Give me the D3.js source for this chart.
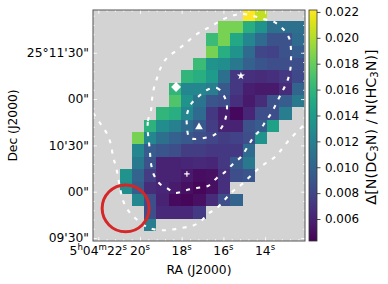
<!DOCTYPE html>
<html>
<head>
<meta charset="utf-8">
<script src="https://cdn.jsdelivr.net/npm/d3@7"></script>
<style>
body { margin: 0; background: #fff; }
text { font-family: "DejaVu Sans", sans-serif; fill: #000; }
</style>
</head>
<body>
<script>
var _ = null;
// ratio map, one row per 8" of Dec, columns run west from RA 20.98s
var ratioRows = [
  [_,_,_,_,_,_,_,_,_,_,.0221,.0205,_,_,_],
  [_,_,_,_,_,_,_,_,.0185,.0185,.0155,.0135,.0108,.0108,.0108],
  [_,_,_,_,_,_,_,.0165,.0185,.0150,.0125,.0105,.0088,.0088,.0105],
  [_,_,_,_,_,_,_,.0185,.0155,.0135,.0105,.0080,.0078,.0088,.0095],
  [_,_,_,_,_,_,.0165,.0135,.0130,.0115,.0098,.0090,.0085,.0085,.0085],
  [_,_,_,_,_,.0160,.0155,.0140,.0108,.0072,.0068,.0065,.0068,.0072,.0082],
  [_,_,_,_,.0160,.0125,.0125,.0118,.0092,.0072,.0058,.0055,.0055,.0065,.0100],
  [_,_,_,_,.0172,.0135,.0112,.0090,.0085,.0068,.0055,.0065,.0088,.0095,.0115],
  [_,_,_,.0160,.0155,.0125,.0105,.0072,.0058,.0047,.0062,.0085,.0085,.0118,_],
  [_,_,.0158,.0130,.0120,.0105,.0092,.0075,.0060,.0060,.0088,.0095,.0145,_,_],
  [_,.0185,.0125,.0108,.0098,.0092,.0085,.0080,.0075,.0078,.0085,.0135,_,_,_],
  [_,.0125,.0095,.0090,.0085,.0075,.0075,.0071,.0072,.0072,.0105,_,_,_,_],
  [_,.0115,.0088,.0060,.0060,.0062,.0063,.0062,.0072,.0092,.0115,_,_,_,_],
  [.0135,.0100,.0075,.0060,.0060,.0055,.0049,.0050,.0068,.0085,.0090,_,_,_,_],
  [.0130,.0095,.0065,.0062,.0056,.0050,.0046,.0050,.0068,_,_,_,_,_,_],
  [_,.0125,.0085,.0060,.0048,.0046,.0050,.0065,.0085,.0100,_,_,_,_,_],
  [_,_,.0085,.0063,.0063,.0063,.0073,_,_,_,_,_,_,_,_],
  [_,_,.0118,_,_,_,_,_,_,_,_,_,_,_,_]
];
var raStart = 20.983, raStep = 0.59;
var decStart = 178.6, decStep = 8; // arcsec above 25d09m

// contours, [RA seconds, Dec arcsec above 25d09m]
var outerContour = [[22.25,111],[21.92,104.5],[21.58,97.4],[21.39,90.3],[21.29,82.5],[21.15,76],[20.82,54.6],[20.58,48.1],[20.24,43],[19.66,37.1],[19.14,35.2],[18.61,35.2],[18.03,36.5],[17.51,37.8],[17.12,40.4],[16.74,45.6],[16.31,49.4],[15.59,59.8],[15.16,64.3],[14.39,74.1],[13.96,78.6],[13.53,82.5],[13.19,87.7],[12.85,93.5],[12.47,98.7],[12.09,103.9]];
var middleContour = [[19.62,98],[19.62,105.8],[19.47,112.9],[19.42,120.1],[19.33,127.2],[19.18,133.7],[18.99,140.8],[18.71,146.6],[18.27,151.2],[17.84,155.7],[17.46,160.2],[17.03,164.1],[16.55,167.4],[16.07,171.3],[15.59,173.9],[15.11,175.2],[14.58,173.9],[14.1,171.9],[13.57,170],[13.14,165.4],[12.85,159.6],[12.76,152.5],[12.76,145.3],[12.8,138.2],[12.95,131.1],[13.19,124.6],[13.43,118.1],[13.67,111.6],[13.96,105.8],[14.24,100],[14.58,94.8],[14.87,88.3],[15.16,82.5],[15.54,78],[15.92,72.8],[16.31,68.9],[16.74,63.7],[17.27,62.4],[17.75,61.1],[18.32,59.2],[18.71,62.4],[19.04,65],[19.33,70.8],[19.47,78],[19.52,85.1],[19.57,92.2]];
var innerContour = [[16.79,125.9],[16.31,127.2],[15.97,122],[15.83,115.5],[15.88,108.4],[16.07,101.9],[16.45,96.7],[16.93,94.8],[17.46,94.2],[17.65,95.4],[17.75,103.2],[17.75,109.7],[17.55,116.8],[17.22,121.4]];

var markerNames = [d3.symbolDiamond2, d3.symbolTriangle, d3.symbolStar, d3.symbolCross];
var markerRa = [18.27, 17.17, 15.16, 17.75];
var markerDec = [127.8, 101.9, 135, 71.5];
var markerSize = [62, 26, 20, 0];

var beamRa = 20.69, beamDec = 49.2, beamRadius = 15.2;

var raTicks = [22, 20, 18, 16, 14];
var raLabels = ['5^h04^m22^s', '20^s', '18^s', '16^s', '14^s'];
var decTicks = [150, 120, 90, 60, 30];
var decLabels = ['25\u00b011\'30"', '00"', '10\'30"', '00"', '09\'30"'];
var barTicks = [0.022, 0.020, 0.018, 0.016, 0.014, 0.012, 0.010, 0.008, 0.006];

var left = 93, right = 305, top_ = 10, bottom = 241;
var barLeft = 309, barRight = 317;

var x = d3.scaleLinear().domain([22.254, 12.086]).range([left, right]);
var y = d3.scaleLinear().domain([177.7, 28.06]).range([top_, bottom]);
var color = d3.scaleSequential(d3.interpolateViridis).domain([0.0043, 0.02215]);
var barY = d3.scaleLinear().domain(color.domain()).range([bottom, top_]);

var svg = d3.select('body').append('svg').attr('width', 388).attr('height', 284);

svg.append('clipPath').attr('id', 'plot')
  .append('rect').attr('x', left).attr('y', top_).attr('width', right - left).attr('height', bottom - top_);

var plot = svg.append('g').attr('clip-path', 'url(#plot)');
plot.append('rect').attr('x', left).attr('y', top_).attr('width', right - left).attr('height', bottom - top_).attr('fill', '#d3d3d3');

ratioRows.forEach(function(row, r) {
  row.forEach(function(v, c) {
    if (v === null) return;
    var x0 = x(raStart - c * raStep), x1 = x(raStart - (c + 1) * raStep);
    var y0 = y(decStart - r * decStep), y1 = y(decStart - (r + 1) * decStep);
    plot.append('rect').attr('x', x0).attr('y', y0)
      .attr('width', x1 - x0).attr('height', y1 - y0)
      .attr('fill', color(v)).attr('shape-rendering', 'crispEdges');
  });
});

var openLine = d3.line().x(function(d) { return x(d[0]); }).y(function(d) { return y(d[1]); }).curve(d3.curveCatmullRom);
var closedLine = d3.line().x(function(d) { return x(d[0]); }).y(function(d) { return y(d[1]); }).curve(d3.curveCatmullRomClosed);
var dashStyle = function(sel) {
  sel.attr('fill', 'none').attr('stroke', '#fff').attr('stroke-width', 2.1).attr('stroke-dasharray', '4,6.4');
};
plot.append('path').attr('d', openLine(outerContour)).call(dashStyle);
plot.append('path').attr('d', closedLine(middleContour)).call(dashStyle);
plot.append('path').attr('d', closedLine(innerContour)).call(dashStyle);

// red circle
plot.append('circle').attr('cx', x(beamRa)).attr('cy', y(beamDec))
  .attr('r', y(beamDec - beamRadius) - y(beamDec))
  .attr('fill', 'none').attr('stroke', '#d62728').attr('stroke-width', 3);

// source markers
markerNames.forEach(function(s, i) {
  var g = plot.append('g').attr('transform', 'translate(' + x(markerRa[i]) + ',' + y(markerDec[i]) + ')');
  if (markerSize[i] > 0) {
    g.append('path').attr('d', d3.symbol().type(s).size(markerSize[i])()).attr('fill', '#fff');
  } else {
    g.append('path').attr('d', 'M-2.7,0H2.7M0,-2.7V2.7').attr('stroke', '#fff').attr('stroke-width', 1.2);
  }
});

// white ticks all round, pointing in
var raMinor = d3.range(12.4, 22.2, 0.4);
var decMinor = d3.range(30, 177, 6);
var drawTicks = function(axisFn, scale, values, len, tx, ty) {
  var a = axisFn(scale).tickValues(values).tickSize(-len).tickFormat('');
  var g = svg.append('g').attr('transform', 'translate(' + tx + ',' + ty + ')').call(a);
  g.select('.domain').remove();
  g.selectAll('line').attr('stroke', '#fff').attr('stroke-width', 0.8);
};
drawTicks(d3.axisBottom, x, raMinor, 2, 0, bottom);
drawTicks(d3.axisBottom, x, raTicks, 4, 0, bottom);
drawTicks(d3.axisTop, x, raMinor, 2, 0, top_);
drawTicks(d3.axisTop, x, raTicks, 4, 0, top_);
drawTicks(d3.axisLeft, y, decMinor, 2, left, 0);
drawTicks(d3.axisLeft, y, decTicks, 4, left, 0);
drawTicks(d3.axisRight, y, decMinor, 2, right, 0);
drawTicks(d3.axisRight, y, decTicks, 4, right, 0);

svg.append('rect').attr('x', left).attr('y', top_).attr('width', right - left).attr('height', bottom - top_)
  .attr('fill', 'none').attr('stroke', '#555').attr('stroke-width', 1);

// tick labels, ^ marks a superscript letter
raTicks.forEach(function(t, i) {
  var label = svg.append('text').attr('x', x(t)).attr('y', 255)
    .attr('text-anchor', 'middle').attr('font-size', 12.3);
  raLabels[i].split('^').forEach(function(part, j) {
    if (j === 0) {
      label.append('tspan').text(part);
      return;
    }
    label.append('tspan').attr('font-size', 8.6).attr('dy', -4.8).text(part[0]);
    label.append('tspan').attr('dy', 4.8).text(part.slice(1));
  });
});
decTicks.forEach(function(t, i) {
  svg.append('text').attr('x', 89).attr('y', y(t) + 4.2)
    .attr('text-anchor', 'end').attr('font-size', 12.3).text(decLabels[i]);
});

svg.append('text').attr('x', 199).attr('y', 274)
  .attr('text-anchor', 'middle').attr('font-size', 12.3).text('RA (J2000)');
svg.append('text').attr('transform', 'translate(17,125.5) rotate(-90)')
  .attr('text-anchor', 'middle').attr('font-size', 12.3).text('Dec (J2000)');

// colorbar
var grad = svg.append('linearGradient').attr('id', 'viridis')
  .attr('x1', 0).attr('y1', 1).attr('x2', 0).attr('y2', 0);
d3.range(0, 1.01, 0.05).forEach(function(t) {
  grad.append('stop').attr('offset', t).attr('stop-color', d3.interpolateViridis(t));
});
svg.append('rect').attr('x', barLeft).attr('y', top_).attr('width', barRight - barLeft).attr('height', bottom - top_)
  .attr('fill', 'url(#viridis)').attr('stroke', '#333').attr('stroke-width', 0.8);
var barAxis = svg.append('g').attr('transform', 'translate(' + barRight + ',0)')
  .call(d3.axisRight(barY).tickValues(barTicks).tickSize(3.5).tickPadding(4.5).tickFormat(d3.format('.3f')));
barAxis.select('.domain').remove();
barAxis.selectAll('line').attr('stroke', '#222').attr('stroke-width', 0.8);
barAxis.selectAll('text').attr('font-size', 11.9).style('font-family', '"DejaVu Sans", sans-serif');

var barLabel = svg.append('text').attr('transform', 'translate(375.5,127) rotate(-90)')
  .attr('text-anchor', 'middle').attr('font-size', 14.4);
barLabel.append('tspan').text('\u0394[N(DC');
barLabel.append('tspan').attr('font-size', 10).attr('dy', 2.4).text('3');
barLabel.append('tspan').attr('dy', -2.4).text('N) / N(HC');
barLabel.append('tspan').attr('font-size', 10).attr('dy', 2.4).text('3');
barLabel.append('tspan').attr('dy', -2.4).text('N)]');
</script>
</body>
</html>
